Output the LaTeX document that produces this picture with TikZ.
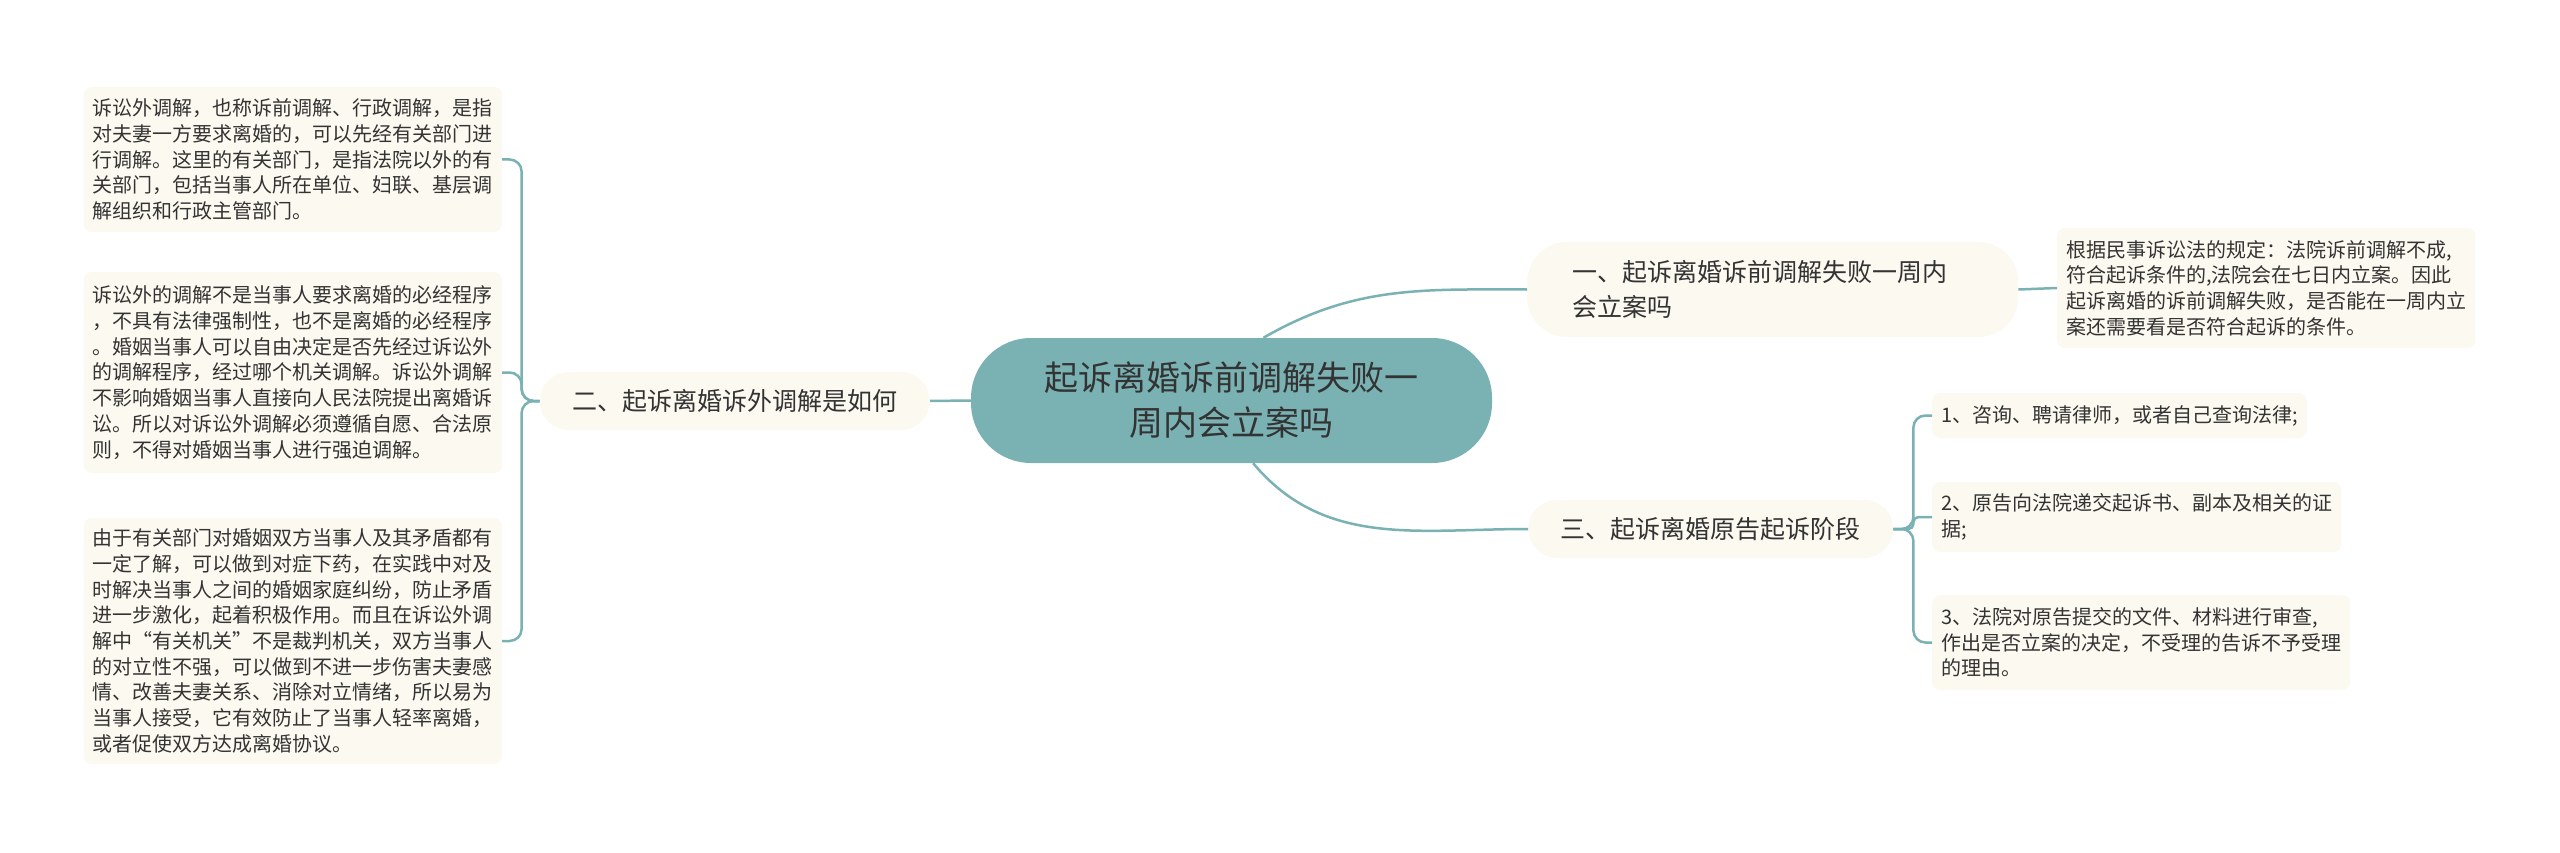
\documentclass[tikz,border=0pt]{standalone}
\usepackage{fontspec}
\setmainfont{Noto Sans CJK SC}
\definecolor{tealmain}{HTML}{7AB2B4}
\definecolor{cream}{HTML}{FCF9F0}
\definecolor{ink}{HTML}{333333}

\begin{document}
\begin{tikzpicture}[x=1pt, y=-1pt,
    link/.style={draw=tealmain, line width=2.5pt, rounded corners=12pt},
    topic/.style={fill=tealmain, text=ink, rounded corners=60pt, minimum width=521pt, minimum height=125pt, align=center, font=\fontsize{34}{45}\selectfont},
    branch/.style={fill=cream, text=ink, minimum height=58pt, inner xsep=30pt, rounded corners=29pt, font=\fontsize{25}{35}\selectfont},
    leaf/.style={fill=cream, text=ink, align=left, inner xsep=9pt, rounded corners=8pt, font=\fontsize{20}{25.7}\selectfont}]
    \path[fill=white, use as bounding box] (0,0) rectangle (2560,853);

    % Centre
    \node[topic] (ctr) at (1231.5,400.5) {起诉离婚诉前调解失败一\\周内会立案吗};

    % Branches
    \node[branch, anchor=west, minimum width=491pt, text width=401pt, inner xsep=45pt, align=left, minimum height=95pt, rounded corners=40pt] (b1) at (1527,289.5) {一、起诉离婚诉前调解失败一周内\\会立案吗};
    \node[branch, anchor=east, minimum width=390pt] (b2) at (930,401) {二、起诉离婚诉外调解是如何};
    \node[branch, anchor=west, minimum width=365pt] (b3) at (1528,529) {三、起诉离婚原告起诉阶段};

    % Leaves, right
    \node[leaf, anchor=west, minimum height=120pt] (r1) at (2057,288) {根据民事诉讼法的规定：法院诉前调解不成,\\符合起诉条件的,法院会在七日内立案。因此\\起诉离婚的诉前调解失败，是否能在一周内立\\案还需要看是否符合起诉的条件。};
    \node[leaf, anchor=west, minimum height=45pt] (r3a) at (1932,415.5) {1、咨询、聘请律师，或者自己查询法律;};
    \node[leaf, anchor=west, minimum height=70pt] (r3b) at (1932,517) {2、原告向法院递交起诉书、副本及相关的证\\据;};
    \node[leaf, anchor=west, minimum height=95pt] (r3c) at (1932,642.5) {3、法院对原告提交的文件、材料进行审查,\\作出是否立案的决定，不受理的告诉不予受理\\的理由。};

    % Leaves, left
    \node[leaf, anchor=east, minimum height=145pt] (l1) at (502,159.5) {诉讼外调解，也称诉前调解、行政调解，是指\\对夫妻一方要求离婚的，可以先经有关部门进\\行调解。这里的有关部门，是指法院以外的有\\关部门，包括当事人所在单位、妇联、基层调\\解组织和行政主管部门。};
    \node[leaf, anchor=east, minimum height=201pt] (l2) at (502,372.5) {诉讼外的调解不是当事人要求离婚的必经程序\\，不具有法律强制性，也不是离婚的必经程序\\。婚姻当事人可以自由决定是否先经过诉讼外\\的调解程序，经过哪个机关调解。诉讼外调解\\不影响婚姻当事人直接向人民法院提出离婚诉\\讼。所以对诉讼外调解必须遵循自愿、合法原\\则，不得对婚姻当事人进行强迫调解。};
    \node[leaf, anchor=east, minimum height=246pt] (l3) at (502,641) {由于有关部门对婚姻双方当事人及其矛盾都有\\一定了解，可以做到对症下药，在实践中对及\\时解决当事人之间的婚姻家庭纠纷，防止矛盾\\进一步激化，起着积极作用。而且在诉讼外调\\解中“有关机关”不是裁判机关，双方当事人\\的对立性不强，可以做到不进一步伤害夫妻感\\情、改善夫妻关系、消除对立情绪，所以易为\\当事人接受，它有效防止了当事人轻率离婚，\\或者促使双方达成离婚协议。};

    % Links
    \draw[link] (ctr.63) to[out=30, in=180] (b1.west);
    \draw[link] (ctr.west) -- (b2.east);
    \draw[link] (ctr.-71) to[out=-50, in=180] (b3.west);
    \draw[link] (b1.east) -- (r1.west);
    \draw[link] (b3.east) -- ++(20,0) |- (r3a.west);
    \draw[link, rounded corners=5pt] (b3.east) -- ++(20,0) |- (r3b.west);
    \draw[link] (b3.east) -- ++(20,0) |- (r3c.west);
    \draw[link] (b2.west) -- ++(-18,0) |- (l1.east);
    \draw[link] (b2.west) -- ++(-18,0) |- (l2.east);
    \draw[link] (b2.west) -- ++(-18,0) |- (l3.east);
  \end{tikzpicture}
\end{document}
